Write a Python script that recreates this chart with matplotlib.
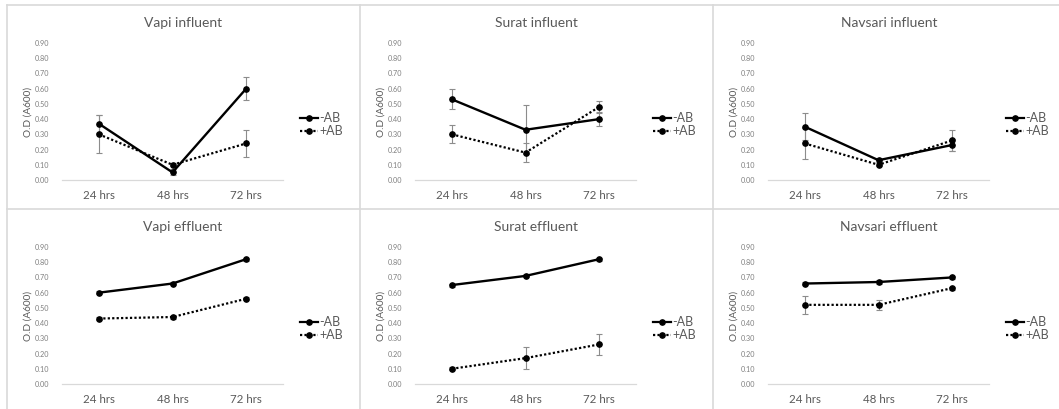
import matplotlib
matplotlib.use("Agg")
import matplotlib.pyplot as plt
from matplotlib.lines import Line2D

# --- data ---
categories = ["24 hrs", "48 hrs", "72 hrs"]
series_names = ["-AB", "+AB"]

titles = [
    "Vapi influent", "Surat influent", "Navsari influent",
    "Vapi effluent", "Surat effluent", "Navsari effluent",
]

minus_ab = [
    [0.37, 0.05, 0.60],
    [0.53, 0.33, 0.40],
    [0.35, 0.13, 0.23],
    [0.60, 0.66, 0.82],
    [0.65, 0.71, 0.82],
    [0.66, 0.67, 0.70],
]
minus_ab_err = [
    [0.06, 0.02, 0.075],
    [0.065, 0.16, 0.045],
    [0.09, 0.01, 0.04],
    [0.01, 0.01, 0.01],
    [0.01, 0.01, 0.01],
    [0.01, 0.01, 0.01],
]
plus_ab = [
    [0.30, 0.10, 0.24],
    [0.30, 0.18, 0.48],
    [0.24, 0.10, 0.26],
    [0.43, 0.44, 0.56],
    [0.10, 0.17, 0.26],
    [0.52, 0.52, 0.63],
]
plus_ab_err = [
    [0.125, 0.01, 0.09],
    [0.06, 0.06, 0.04],
    [0.10, 0.01, 0.07],
    [0.01, 0.01, 0.01],
    [0.01, 0.07, 0.07],
    [0.06, 0.035, 0.01],
]

y_ticks = [0.0, 0.1, 0.2, 0.3, 0.4, 0.5, 0.6, 0.7, 0.8, 0.9]

# --- layout (pixels) ---
W, H = 1059, 409
COL_X = [7, 360, 713]
ROW_Y = [5, 209]
BORDER = "#d9d9d9"
TEXT_GRAY = "#595959"
TICK_GRAY = "#7f7f7f"

plt.rcParams["font.family"] = ["Lato", "DejaVu Sans"]

fig = plt.figure(figsize=(W / 100, H / 100), dpi=100)


def fx(px):
    return px / W


def fy(py):
    return 1 - py / H


# panel grid lines
for x in COL_X:
    fig.add_artist(Line2D([fx(x), fx(x)], [0, fy(ROW_Y[0])], color=BORDER, lw=1.2))
for y in ROW_Y:
    fig.add_artist(Line2D([fx(COL_X[0]), 1], [fy(y), fy(y)], color=BORDER, lw=1.2))

xs = list(range(len(categories)))

for i, title in enumerate(titles):
    ox = COL_X[i % 3]
    oy = ROW_Y[i // 3]
    left, right = ox + 55, ox + 276
    top, bottom = oy + 38, oy + 175
    ax = fig.add_axes([fx(left), fy(bottom), fx(right - left), (bottom - top) / H])

    ax.errorbar(xs, minus_ab[i], yerr=minus_ab_err[i], fmt="none",
                ecolor="#8c8c8c", elinewidth=0.8, capsize=2.5, capthick=0.8, zorder=1)
    ax.errorbar(xs, plus_ab[i], yerr=plus_ab_err[i], fmt="none",
                ecolor="#8c8c8c", elinewidth=0.8, capsize=2.5, capthick=0.8, zorder=1)
    ax.plot(xs, minus_ab[i], color="black", lw=1.7, marker="o", ms=3.8, zorder=3)
    ax.plot(xs, plus_ab[i], color="black", lw=1.6, ls=(0, (1, 1)), marker="o", ms=3.8,
            zorder=2)

    ax.set_xlim(-0.5, 2.5)
    ax.set_ylim(0, 0.9)
    ax.set_xticks(xs)
    ax.set_xticklabels(categories, fontsize=8.3, color=TEXT_GRAY)
    ax.set_yticks(y_ticks)
    ax.set_yticklabels([f"{v:.2f}" for v in y_ticks], fontsize=5.2, color=TICK_GRAY)
    ax.tick_params(length=0, pad=9)
    ax.tick_params(axis="x", pad=7)
    for s in ["top", "right", "left"]:
        ax.spines[s].set_visible(False)
    ax.spines["bottom"].set_color(BORDER)
    ax.spines["bottom"].set_linewidth(0.9)
    ax.patch.set_alpha(0)

    fig.text(fx(ox + 176), fy(oy + 18), title, ha="center", va="center",
             fontsize=10, color=TEXT_GRAY)
    fig.text(fx(ox + 21), fy(oy + 107), "O.D (A600)", ha="center", va="center",
             rotation=90, fontsize=7.2, color=TEXT_GRAY)

    # legend drawn by hand to mimic the Excel layout
    for j, name in enumerate(series_names):
        ly = oy + 113 + j * 13
        ls = "-" if j == 0 else (0, (1, 1))
        fig.add_artist(Line2D([fx(ox + 293), fx(ox + 311)], [fy(ly), fy(ly)],
                              color="black", lw=1.6, ls=ls))
        fig.add_artist(Line2D([fx(ox + 302)], [fy(ly)], color="black",
                              marker="o", ms=3.8))
        fig.text(fx(ox + 312), fy(ly), name, ha="left", va="center",
                 fontsize=9, color=TEXT_GRAY)

fig.savefig("out.png", dpi=100)
